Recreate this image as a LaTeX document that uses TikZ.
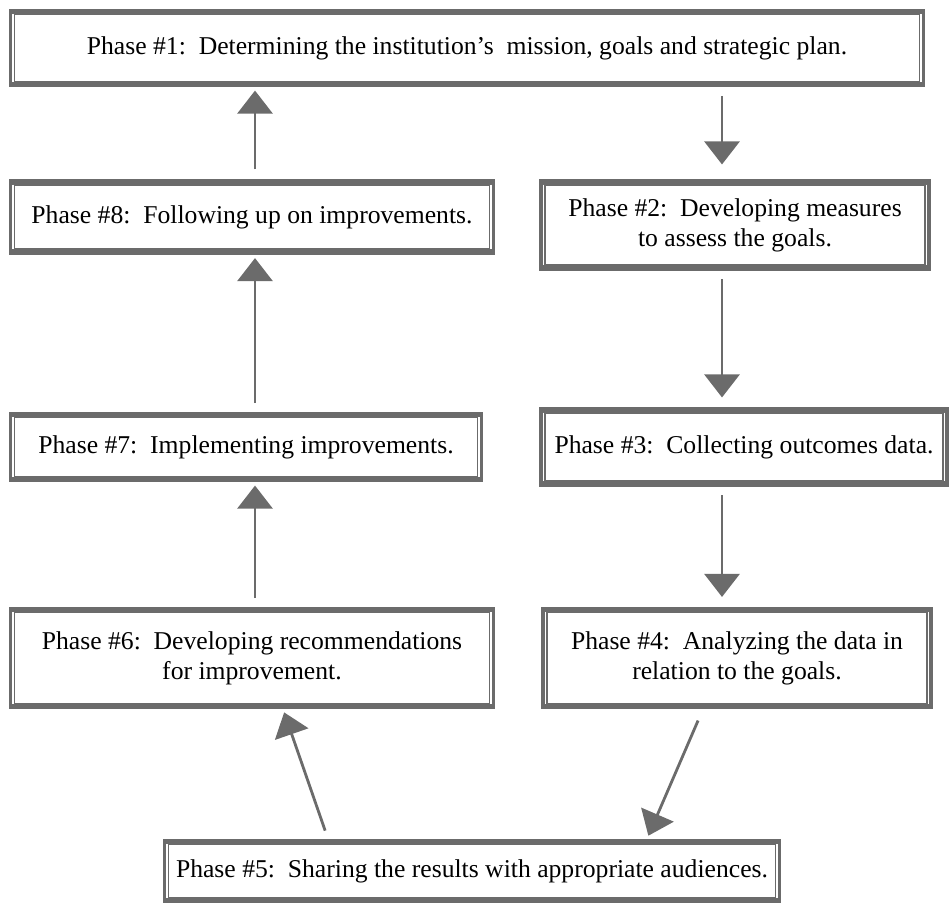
\documentclass[tikz,border=0pt]{standalone}
\usepackage{fontspec}
\setmainfont{Liberation Serif}
\usetikzlibrary{arrows.meta}

\definecolor{framegray}{gray}{0.42}

\tikzset{
    phase/.style={draw=framegray, line width=3.5pt, fill=white, align=center,
        font=\fontsize{14.6}{17}\selectfont, inner sep=3pt},
    flow/.style={draw=framegray, line width=1.6pt,
        -{Triangle[width=0.7cm,length=0.46cm]}, shorten <=5pt, shorten >=2pt}
}

\begin{document}
\begin{tikzpicture}[x=0.02cm, y=-0.02cm]
    % Fix the page to the size of the picture
    \useasboundingbox (0,0) rectangle (949,907);

    % Columns of the straight arrows
    \coordinate (lx) at (255,0);
    \coordinate (rx) at (722,0);

    % The eight phases
    \node[phase, minimum width=18.2cm, minimum height=1.44cm] (p1) at (467,48)
        {Phase \#1:\ \ Determining the institution's\ \ mission, goals and strategic plan.};
    \node[phase, minimum width=9.6cm, minimum height=1.38cm] (p8) at (252,217)
        {Phase \#8:\ \ Following up on improvements.};
    \node[phase, minimum width=7.7cm, minimum height=1.7cm] (p2) at (735,225)
        {Phase \#2:\ \ Developing measures\\ to assess the goals.};
    \node[phase, minimum width=9.36cm, minimum height=1.28cm] (p7) at (246,447)
        {Phase \#7:\ \ Implementing improvements.};
    \node[phase, minimum width=8.06cm, minimum height=1.46cm] (p3) at (744,447)
        {Phase \#3:\ \ Collecting outcomes data.};
    \node[phase, minimum width=9.6cm, minimum height=1.92cm] (p6) at (252,658)
        {Phase \#6:\ \ Developing recommendations\\ for improvement.};
    \node[phase, minimum width=7.7cm, minimum height=1.92cm] (p4) at (737,658)
        {Phase \#4:\ \ Analyzing the data in\\ relation to the goals.};
    \node[phase, minimum width=12.24cm, minimum height=1.16cm] (p5) at (472,871)
        {Phase \#5:\ \ Sharing the results with appropriate audiences.};

    % Inner lines of the frames
    \foreach \n in {p1,p2,p3,p4,p5,p6,p7,p8} {
        \draw[white, line width=0.8pt] ([xshift=2.2pt,yshift=-3pt]\n.north west) -- ([xshift=2.2pt,yshift=3pt]\n.south west);
        \draw[white, line width=0.8pt] ([xshift=-2.2pt,yshift=-3pt]\n.north east) -- ([xshift=-2.2pt,yshift=3pt]\n.south east);
    }

    % Arrows down the right
    \draw[flow, shorten >=0.3cm] (p1.south -| rx) -- (p2.north -| rx);
    \draw[flow, shorten >=0.2cm] (p2.south -| rx) -- (p3.north -| rx);
    \draw[flow, shorten >=0.2cm] (p3.south -| rx) -- (p4.north -| rx);

    % Arrows through the bottom
    \draw[flow, shorten <=0.25cm] ([xshift=-0.68cm]p4.south) -- ([xshift=3.5cm]p5.north);
    \draw[flow] ([xshift=-2.88cm]p5.north) -- ([xshift=0.62cm]p6.south);

    % Arrows up the left
    \draw[flow] (p6.north -| lx) -- (p7.south -| lx);
    \draw[flow] (p7.north -| lx) -- (p8.south -| lx);
    \draw[flow, shorten <=0.2cm] (p8.north -| lx) -- (p1.south -| lx);
\end{tikzpicture}
\end{document}
